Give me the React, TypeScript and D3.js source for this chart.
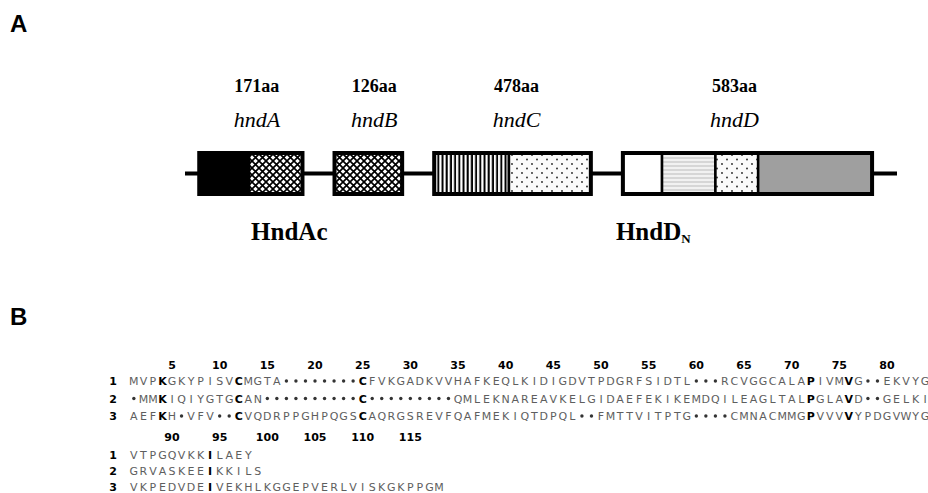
import React from 'react';
import * as d3 from 'd3';

// dimensões fixas da figura
const width = 928;
const height = 493;

// painel A: genes do operon
const genes = ['hndA', 'hndB', 'hndC', 'hndD'];
const geneLengths = [171, 126, 478, 583];
// limites dos domínios de cada gene (unidades esquemáticas 0-100 ao longo do operon)
const geneBounds = [
  [2, 9, 16.5],
  [21, 30.5],
  [35, 45.5, 57],
  [61.5, 67, 74.5, 80.5, 96.5],
];
const domainTypes = [
  ['solid', 'cross'],
  ['cross'],
  ['vlines', 'dots'],
  ['white', 'hlines', 'dots', 'gray'],
];
const operonExtent = [0, 100];

// painel B: alinhamento
const seqIds = ['1', '2', '3'];
const block1 = [
  'MVPKGKYPISVCMGTA........CFVKGADKVVHAFKEQLKIDIGDVTPDGRFSIDTL...RCVGGCALAPIVMVG..EKVYG',
  '.MMKIQIYGTGCAN..........C.........QMLEKNAREAVKELGIDAEFEKIKEMDQILEAGLTALPGLAVD..GELKI',
  'AEFKH.VFV..CVQDRPPGHPQGSCAQRGSREVFQAFMEKIQTDPQL..FMTTVITPTG....CMNACMMGPVVVVYPDGVWYG',
];
const block2 = [
  'VTPGQVKKILAEY',
  'GRVASKEEIKKILS',
  'VKPEDVDEIVEKHLKGGEPVERLVISKGKPPGM',
];
const block1Ticks = [5, 10, 15, 20, 25, 30, 35, 40, 45, 50, 55, 60, 65, 70, 75, 80];
const block2Ticks = [90, 95, 100, 105, 110, 115];
const block2Start = 86;
const conserved1 = [4, 12, 25, 72, 76];
const conserved2 = [94];

const fills: Record<string, string> = {
  solid: '#000',
  cross: 'url(#pCross)',
  vlines: 'url(#pVlines)',
  dots: 'url(#pDots)',
  white: '#fff',
  hlines: 'url(#pHlines)',
  gray: '#9f9f9f',
};

const serif = '"Liberation Serif", "Times New Roman", serif';
const sans = '"Liberation Sans", Arial, sans-serif';
const seqFont = '"DejaVu Sans", "Liberation Sans", sans-serif';

export default function App() {
  const x = d3.scaleLinear().domain(operonExtent).range([185, 897]);
  const boxTop = 153;
  const boxBottom = 194;
  const lineY = 173.5;

  // colunas do alinhamento
  const col = d3.scaleLinear().domain([5, 80]).range([172, 887]);
  const block1Y = [381, 398.5, 416];
  const block2Y = [455, 471, 487];

  const labelShift = [6, 6, 4, -13];

  const renderRow = (seq: string, y: number, startPos: number, bold: number[], key: string) =>
    seq.split('').map((ch, i) => {
      const pos = startPos + i;
      const cx = col(i + 1);
      if (ch === '.') {
        return <circle key={key + i} cx={cx} cy={y} r={1.7} fill="#333" />;
      }
      const isBold = bold.includes(pos);
      return (
        <text
          key={key + i}
          x={cx}
          y={y + 4}
          textAnchor="middle"
          fontFamily={seqFont}
          fontSize={11}
          fontWeight={isBold ? 'bold' : 'normal'}
          fill={isBold ? '#000' : '#5e5e5e'}
        >
          {ch}
        </text>
      );
    });

  return (
    <div style={{ position: 'absolute', left: 0, top: 0 }}>
      <svg width={width} height={height} style={{ display: 'block', background: '#fff' }}>
        <defs>
          <pattern id="pCross" width={7} height={7} patternUnits="userSpaceOnUse">
            <rect width={7} height={7} fill="#fff" />
            <path d="M0,0L7,7M7,0L0,7" stroke="#000" strokeWidth={1.7} />
          </pattern>
          <pattern id="pVlines" width={4.2} height={10} patternUnits="userSpaceOnUse">
            <rect width={4.2} height={10} fill="#fff" />
            <rect x={0.5} width={2} height={10} fill="#000" />
          </pattern>
          <pattern id="pDots" width={10} height={9} patternUnits="userSpaceOnUse">
            <rect width={10} height={9} fill="#fbfbfb" />
            <circle cx={2} cy={2} r={0.9} fill="#222" />
            <circle cx={7} cy={6.5} r={0.9} fill="#222" />
          </pattern>
          <pattern id="pHlines" width={10} height={4} patternUnits="userSpaceOnUse">
            <rect width={10} height={4} fill="#f1f1f1" />
            <rect y={1.5} width={10} height={1} fill="#bcbcbc" />
          </pattern>
        </defs>

        {/* rótulos dos painéis */}
        <text x={10} y={32} fontFamily={sans} fontWeight="bold" fontSize={24}>A</text>
        <text x={10} y={325} fontFamily={sans} fontWeight="bold" fontSize={24}>B</text>

        {/* linha do operon */}
        <line x1={x(operonExtent[0])} x2={x(operonExtent[1])} y1={lineY} y2={lineY} stroke="#000" strokeWidth={4} />

        {genes.map((g, gi) => {
          const b = geneBounds[gi];
          const cx = (x(b[0]) + x(b[b.length - 1])) / 2 + labelShift[gi];
          return (
            <g key={g}>
              {b.slice(0, -1).map((s, di) => (
                <rect
                  key={di}
                  x={x(s)}
                  y={boxTop}
                  width={x(b[di + 1]) - x(s)}
                  height={boxBottom - boxTop}
                  fill={fills[domainTypes[gi][di]]}
                  stroke="#000"
                  strokeWidth={2.5}
                />
              ))}
              <rect
                x={x(b[0])}
                y={boxTop}
                width={x(b[b.length - 1]) - x(b[0])}
                height={boxBottom - boxTop}
                fill="none"
                stroke="#000"
                strokeWidth={4}
              />
              <text x={cx} y={92} textAnchor="middle" fontFamily={serif} fontWeight="bold" fontSize={18}>
                {geneLengths[gi]}aa
              </text>
              <text x={cx} y={127} textAnchor="middle" fontFamily={serif} fontStyle="italic" fontSize={22}>
                {g}
              </text>
            </g>
          );
        })}

        <text x={x(geneBounds[0][1]) + 2} y={240} fontFamily={serif} fontWeight="bold" fontSize={25}>
          HndAc
        </text>
        <text x={x(geneBounds[3][0]) - 7} y={240} fontFamily={serif} fontWeight="bold" fontSize={25}>
          HndD<tspan fontSize={13} dy={3}>N</tspan>
        </text>

        {/* bloco 1 do alinhamento */}
        {block1Ticks.map((t) => (
          <text key={'t1' + t} x={col(t)} y={369} textAnchor="middle" fontFamily={seqFont} fontWeight="bold" fontSize={11}>
            {t}
          </text>
        ))}
        {seqIds.map((id, si) => (
          <g key={'b1' + id}>
            <text x={113} y={block1Y[si] + 4} textAnchor="middle" fontFamily={seqFont} fontWeight="bold" fontSize={11}>
              {id}
            </text>
            {renderRow(block1[si], block1Y[si], 1, conserved1, 'r1' + id)}
          </g>
        ))}

        {/* bloco 2 do alinhamento */}
        {block2Ticks.map((t) => (
          <text key={'t2' + t} x={col(t - block2Start + 1)} y={441} textAnchor="middle" fontFamily={seqFont} fontWeight="bold" fontSize={11}>
            {t}
          </text>
        ))}
        {seqIds.map((id, si) => (
          <g key={'b2' + id}>
            <text x={113} y={block2Y[si] + 4} textAnchor="middle" fontFamily={seqFont} fontWeight="bold" fontSize={11}>
              {id}
            </text>
            {renderRow(block2[si], block2Y[si], block2Start, conserved2, 'r2' + id)}
          </g>
        ))}
      </svg>
    </div>
  );
}
